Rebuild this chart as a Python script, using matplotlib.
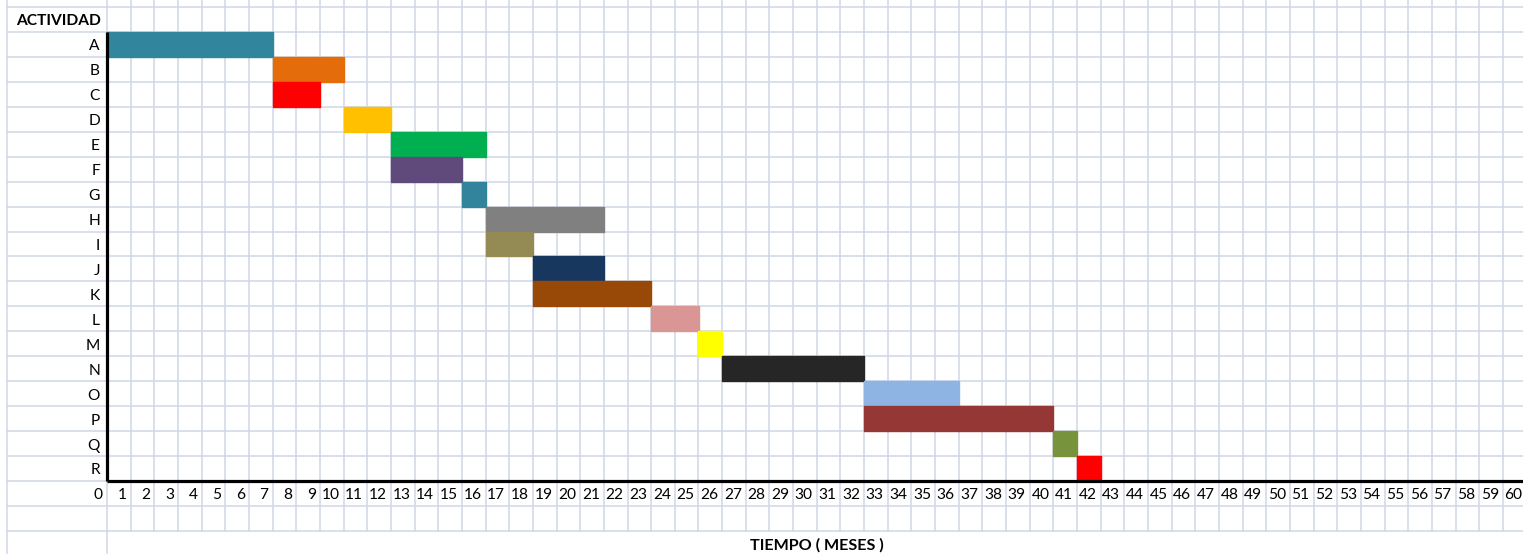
import matplotlib
matplotlib.use('Agg')
import matplotlib.pyplot as plt
import numpy as np

plt.rcParams['font.family'] = ['Lato', 'DejaVu Sans']

# activities, start month and duration (months)
actividades = ['A', 'B', 'C', 'D', 'E', 'F', 'G', 'H', 'I',
               'J', 'K', 'L', 'M', 'N', 'O', 'P', 'Q', 'R']
inicio = [0, 7, 7, 10, 12, 12, 15, 16, 16, 18, 18, 23, 25, 26, 32, 32, 40, 41]
duracion = [7, 3, 2, 2, 4, 3, 1, 5, 2, 3, 5, 2, 1, 6, 4, 8, 1, 1]
colores = ['#31859C', '#E46C0A', '#FF0000', '#FFC000', '#00B050', '#604A7B',
           '#31849B', '#808080', '#948A54', '#17375E', '#984807', '#D99694',
           '#FFFF00', '#262626', '#8EB4E3', '#953735', '#77933C', '#FF0000']
meses = list(range(0, 61))

W, H = 1523, 554
col_w = 23.66      # px per month
row_h = 24.94      # px per row
x0_px, y0_px = 107, 32

fig = plt.figure(figsize=(W / 100, H / 100), dpi=100)
ax = fig.add_axes([0, 0, 1, 1])
ax.set_xlim(-x0_px / col_w, (W - x0_px) / col_w)
ax.set_ylim((H - y0_px) / row_h, -y0_px / row_h)
ax.axis('off')

n = len(actividades)
left_edge = (7 - x0_px) / col_w
grid_c = '#D0D7E5'
grid_lw = 1.1

# spreadsheet grid
for y in range(-1, n + 3):
    ax.plot([left_edge, 61], [y, y], color=grid_c, lw=grid_lw, zorder=1)
for x in range(0, 61):
    ax.plot([x, x], [-2, n + 2], color=grid_c, lw=grid_lw, zorder=1)
ax.plot([left_edge, left_edge], [-2, 25], color=grid_c, lw=grid_lw, zorder=1)
ax.plot([0, 0], [n + 2, 25], color=grid_c, lw=grid_lw, zorder=1)

# gantt bars
ypos = np.arange(n) + 0.5
ax.barh(ypos, duracion, left=inicio, height=1.0, color=colores,
        edgecolor=colores, linewidth=1, joinstyle='round', zorder=3)

# axes lines
ax.plot([0, 0], [0, n], color='black', lw=2.3, zorder=4, solid_capstyle='butt')
ax.plot([0, 61], [n, n], color='black', lw=2.3, zorder=4, solid_capstyle='butt')

# labels
fs = 11.2
for y, a in zip(ypos, actividades):
    ax.text(-0.3, y + 0.08, a, ha='right', va='center', fontsize=fs, zorder=5)
for m in meses:
    ax.text(m - 0.17, n + 0.58, str(m), ha='right', va='center', fontsize=fs, zorder=5)

ax.text((16 - x0_px) / col_w, -0.45, 'ACTIVIDAD', ha='left', va='center',
        fontsize=fs, fontweight='bold')
ax.text(30, n + 2.57, 'TIEMPO ( MESES )', ha='center', va='center',
        fontsize=fs + 0.4, fontweight='bold')

fig.savefig('out.png', dpi=100)
